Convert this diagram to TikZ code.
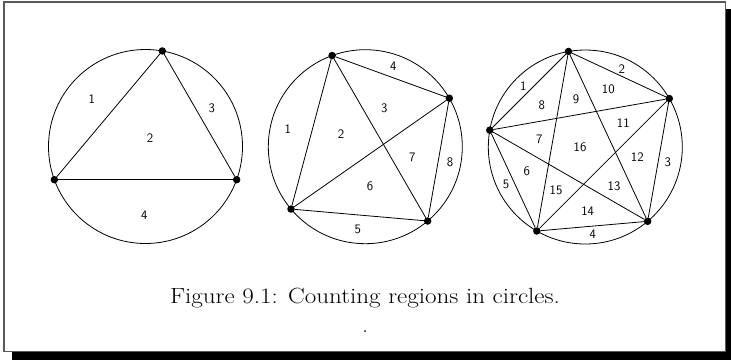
\documentclass[tikz,border=0pt]{standalone}
\usepackage{tikz}
\usepackage{graphicx}

\begin{document}
\begin{tikzpicture}[x=1pt, y=-1pt, line width=0.8pt,
  every node/.style={font=\sffamily\fontsize{13}{15}\selectfont},
  disc/.style={draw,circle,minimum size=194pt,inner sep=0pt,outer sep=0pt},
  vtx/.style={fill,circle,minimum size=7.5pt,inner sep=0pt,outer sep=0pt},
  captext/.style={font=\rmfamily\fontsize{22}{26}\selectfont}]
\useasboundingbox (0,0) rectangle (731,360);
% frame with shadow
\fill (12,9) rectangle (731,360);
\filldraw[fill=white,draw=gray!70!black,line width=1.2pt] (4,2) rectangle (725.5,351.5);

% the three circles
\node[disc] (c1) at (145.5,146.5) {};
\node[disc] (c2) at (365.3,146.7) {};
\node[disc] (c3) at (585.3,147) {};

% three points
\node[vtx] (a1) at (c1.80) {};
\node[vtx] (a2) at (c1.200) {};
\node[vtx] (a3) at (c1.340) {};
\draw (a1) -- (a2);
\draw (a2) -- (a3);
\draw (a3) -- (a1);

% four points
\node[vtx] (b1) at (c2.110) {};
\node[vtx] (b2) at (c2.30) {};
\node[vtx] (b3) at (c2.310) {};
\node[vtx] (b4) at (c2.220) {};
\foreach \i/\j in {1/2,1/3,1/4,2/3,2/4,3/4}
  \draw (b\i) -- (b\j);

% five points
\node[vtx] (d1) at (c3.100) {};
\node[vtx] (d2) at (c3.30) {};
\node[vtx] (d3) at (c3.310) {};
\node[vtx] (d4) at (c3.240) {};
\node[vtx] (d5) at (c3.170) {};
\foreach \i/\j in {1/2,1/3,1/4,1/5,2/3,2/4,2/5,3/4,3/5,4/5}
  \draw (d\i) -- (d\j);

% region numbers
\node (ra1) at (91.7,99) {1};
\node (ra2) at (150,138) {2};
\node (ra3) at (211.7,108.3) {3};
\node (ra4) at (144.3,215) {4};

\node (rb1) at (287.7,129.3) {1};
\node (rb2) at (341,134) {2};
\node (rb3) at (384.3,108.3) {3};
\node (rb4) at (393.3,66) {4};
\node (rb5) at (357.7,229.3) {5};
\node (rb6) at (370,186) {6};
\node (rb7) at (412.3,157.3) {7};
\node (rb8) at (450,162.7) {8};

\node (rc1) at (523.3,85.7) {1};
\node (rc2) at (621.7,69) {2};
\node (rc3) at (667.7,162.7) {3};
\node (rc4) at (592.7,234.3) {4};
\node (rc5) at (506,184.3) {5};
\node (rc6) at (526.7,171.7) {6};
\node (rc7) at (539.3,139.3) {7};
\node (rc8) at (541.7,105) {8};
\node (rc9) at (576,99.3) {9};
\node (rc10) at (608.3,89.3) {10};
\node (rc11) at (623.3,122.7) {11};
\node (rc12) at (637.3,157.3) {12};
\node (rc13) at (614,186) {13};
\node (rc14) at (587.7,210.7) {14};
\node (rc15) at (556,190.7) {15};
\node (rc16) at (580,147.3) {16};

% caption
\node[captext] (cap) at (365,298) {\scalebox{1.14}[1]{Figure 9.1: Counting regions in circles.}};
\node[captext] (stop) at (365,331.5) {.};
\end{tikzpicture}
\end{document}
